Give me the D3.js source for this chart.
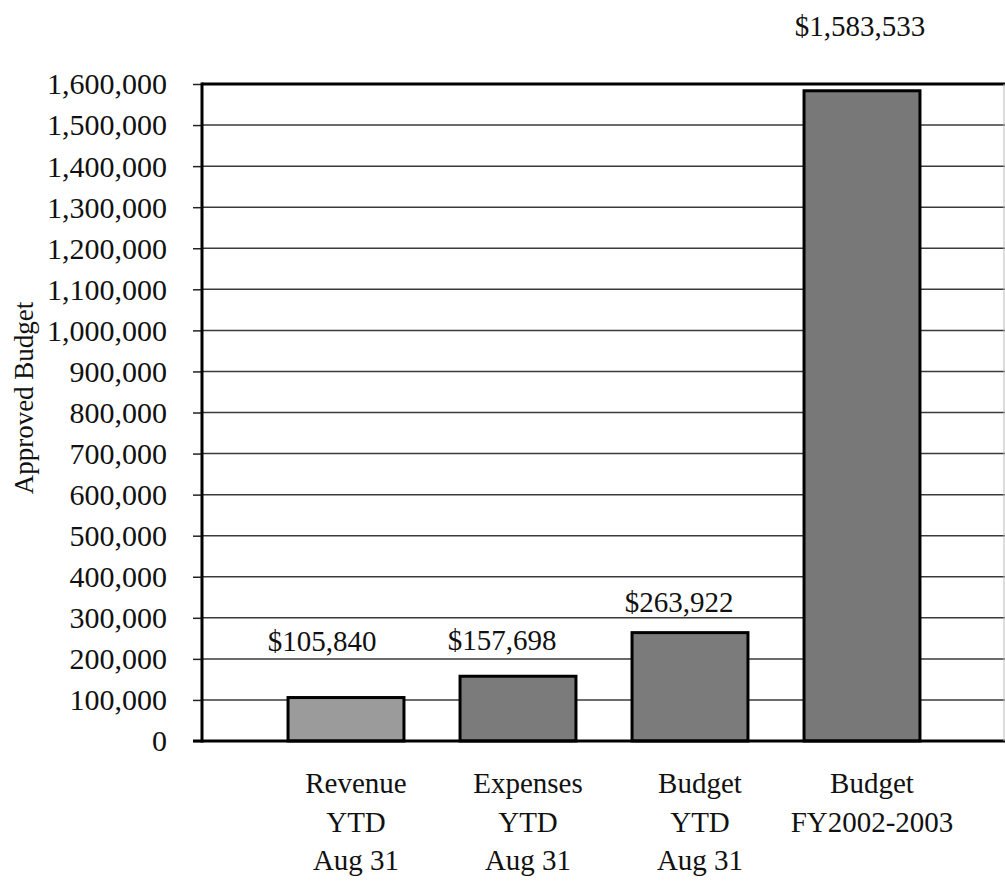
<!DOCTYPE html>
<html>
<head>
<meta charset="utf-8">
<script src="https://cdn.jsdelivr.net/npm/d3@7"></script>
<style>
  body { margin: 0; background: #fff; }
  svg text { font-family: "Liberation Serif", "Times New Roman", Times, serif !important; fill: #111; }
</style>
</head>
<body>
<svg id="chart"></svg>
<script>
// data
var categories = ["Revenue YTD", "Expenses YTD", "Budget YTD", "Budget FY"];
var categoryLines = [
  ["Revenue", "YTD", "Aug 31"],
  ["Expenses", "YTD", "Aug 31"],
  ["Budget", "YTD", "Aug 31"],
  ["Budget", "FY2002-2003"]
];
var values = [105840, 157698, 263922, 1583533];
var valueLabels = ["$105,840", "$157,698", "$263,922", "$1,583,533"];
var yTicks = [0, 100000, 200000, 300000, 400000, 500000, 600000, 700000, 800000,
  900000, 1000000, 1100000, 1200000, 1300000, 1400000, 1500000, 1600000];

// label nudges (excel put them a bit off centre)
var labelDx = [-24, -16, -11, -2];
var labelGap = [47, 26, 21, 55];
var barColors = ["#9b9b9b", "#7b7b7b", "#7b7b7b", "#787878"];

var width = 1005, height = 882;
var plot = { left: 202, top: 84, right: 1005, bottom: 741 };
var serif = "'Liberation Serif', 'Times New Roman', serif";

var svg = d3.select("#chart").attr("width", width).attr("height", height);

var yscale = d3.scaleLinear().domain([0, 1600000]).range([plot.bottom, plot.top]);
var xscale = d3.scaleBand()
  .domain(categories)
  .range([260, 948])
  .paddingInner(0.326)
  .paddingOuter(0.163);

// gridlines
svg.append("g")
  .selectAll("line")
  .data(yTicks.filter(function (d) { return d > 0 && d < 1600000; }))
  .enter()
  .append("line")
  .attr("x1", plot.left)
  .attr("x2", plot.right)
  .attr("y1", function (d) { return yscale(d); })
  .attr("y2", function (d) { return yscale(d); })
  .attr("stroke", "#3a3a3a")
  .attr("stroke-width", 1.5);

// y axis
var yaxis = d3.axisLeft(yscale)
  .tickValues(yTicks)
  .tickSize(9)
  .tickPadding(26)
  .tickFormat(d3.format(",d"));
var yg = svg.append("g")
  .attr("transform", "translate(" + plot.left + ",0)")
  .attr("font-family", serif)
  .call(yaxis);
yg.select(".domain").remove();
yg.selectAll(".tick line").attr("stroke", "#222").attr("stroke-width", 1.5);
yg.selectAll(".tick text")
  .style("font-size", "30px")
  .attr("fill", "#111")
  .attr("dy", "0.33em");

// bars
svg.selectAll(".bar")
  .data(values)
  .enter()
  .append("rect")
  .attr("class", "bar")
  .attr("x", function (d, i) { return xscale(categories[i]); })
  .attr("y", function (d) { return yscale(d); })
  .attr("width", xscale.bandwidth())
  .attr("height", function (d) { return plot.bottom - yscale(d); })
  .attr("fill", function (d, i) { return barColors[i]; })
  .attr("stroke", "#000")
  .attr("stroke-width", 3);

// value labels
svg.selectAll(".vlabel")
  .data(values)
  .enter()
  .append("text")
  .attr("class", "vlabel")
  .attr("text-anchor", "middle")
  .attr("x", function (d, i) { return xscale(categories[i]) + xscale.bandwidth() / 2 + labelDx[i]; })
  .attr("y", function (d, i) { return yscale(d) - labelGap[i]; })
  .style("font-size", "29px")
  .text(function (d, i) { return valueLabels[i]; });

// frame: top border, left axis, bottom axis
svg.append("line")
  .attr("x1", plot.left).attr("x2", plot.right)
  .attr("y1", plot.top).attr("y2", plot.top)
  .attr("stroke", "#000").attr("stroke-width", 3);
svg.append("line")
  .attr("x1", plot.left).attr("x2", plot.left)
  .attr("y1", plot.top - 1.5).attr("y2", plot.bottom + 1.5)
  .attr("stroke", "#000").attr("stroke-width", 3);
svg.append("line")
  .attr("x1", plot.left - 9).attr("x2", plot.right)
  .attr("y1", plot.bottom).attr("y2", plot.bottom)
  .attr("stroke", "#000").attr("stroke-width", 3);
svg.append("line")
  .attr("x1", plot.right - 1).attr("x2", plot.right - 1)
  .attr("y1", plot.top).attr("y2", plot.bottom)
  .attr("stroke", "#bbb").attr("stroke-width", 1);

// category labels
var cg = svg.selectAll(".clabel")
  .data(categoryLines)
  .enter()
  .append("text")
  .attr("class", "clabel")
  .attr("text-anchor", "middle")
  .style("font-size", "29px");
cg.each(function (lines, i) {
  var cx = xscale(categories[i]) + xscale.bandwidth() / 2 + 10;
  d3.select(this).selectAll("tspan")
    .data(lines)
    .enter()
    .append("tspan")
    .attr("x", cx)
    .attr("y", function (d, j) { return 793 + j * 38.5; })
    .text(function (d) { return d; });
});

// y title
svg.append("text")
  .attr("text-anchor", "middle")
  .attr("transform", "translate(33,398)rotate(-90)")
  .style("font-size", "27px")
  .text("Approved Budget");
</script>
</body>
</html>
